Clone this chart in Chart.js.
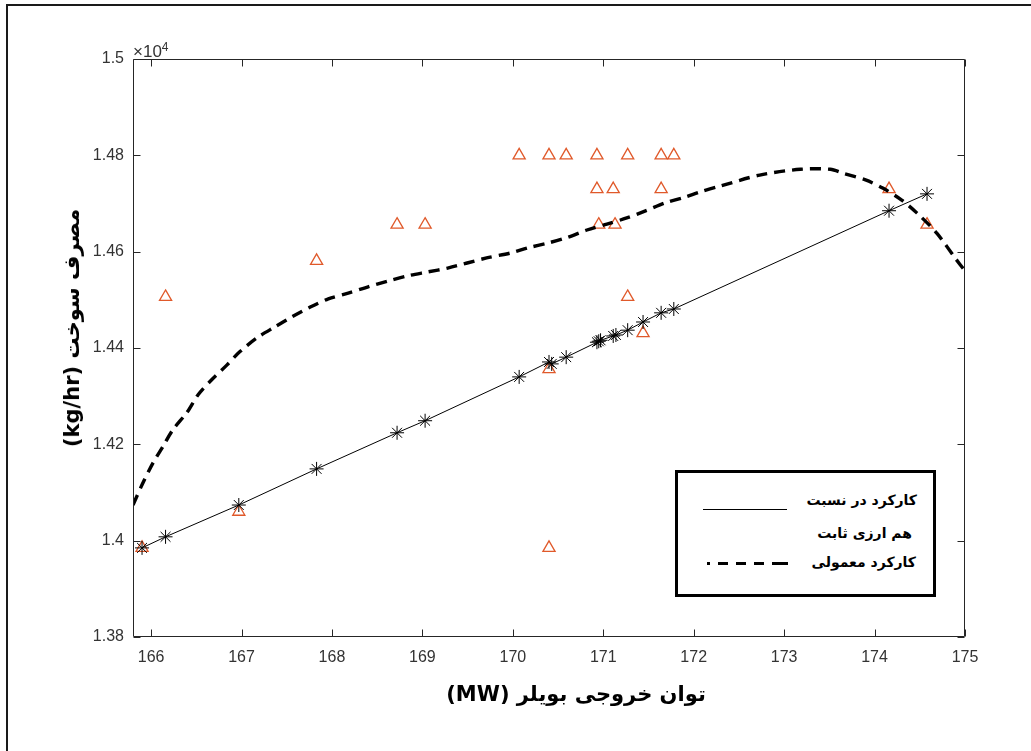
<!DOCTYPE html>
<html>
<head>
<meta charset="utf-8">
<script src="https://cdn.jsdelivr.net/npm/chart.js@4.4.1/dist/chart.umd.min.js"></script>
<style>
  html, body { margin: 0; padding: 0; background: #fff; overflow: hidden; }
  #wrap { position: relative; width: 1031px; height: 751px; }
  #frame { position: absolute; left: 6px; top: 4px; width: 1100px; height: 800px; border: 2px solid #1a1a1a; }
  #chart { position: absolute; left: 0; top: 0; }
  .fa { position: absolute; font-family: "DejaVu Sans", sans-serif; font-weight: bold; direction: rtl; white-space: nowrap; color: #000; }
  #xTitle { font-size: 21px; left: 576px; top: 682px; transform: translateX(-50%); }
  #yTitle { font-size: 21px; left: 72px; top: 328px; transform: translate(-50%, -50%) rotate(-90deg); }
  #expo { position: absolute; left: 133px; top: 37px; font: 17px "Liberation Sans", Arial, sans-serif; line-height: 20px; color: #333; }
  #expo sup { font-size: 12px; vertical-align: 6px; }
  #legend { position: absolute; left: 675px; top: 470px; width: 261px; height: 127px; box-sizing: border-box; border: 3px solid #000; background: #fff; }
  #legend .fa { font-size: 14px; line-height: 20px; }
  .lg-solid { position: absolute; left: 25px; top: 36px; width: 84px; border-top: 1.5px solid #000; }
  .lg-dash { position: absolute; left: 29px; top: 89px; width: 81px; height: 3px;
    background: repeating-linear-gradient(to right, #000 0 10px, transparent 10px 18px); background-position: -7px 0; }
</style>
</head>
<body>
<div id="wrap">
  <div id="frame"></div>
  <canvas id="chart" width="1031" height="751"></canvas>
  <div id="expo">&times;10<sup>4</sup></div>
  <div class="fa" id="yTitle">مصرف سوخت (kg/hr)</div>
  <div class="fa" id="xTitle">توان خروجی بویلر (MW)</div>
  <div id="legend">
    <div class="lg-solid"></div>
    <div class="fa" style="right:16px; top:17px;">کارکرد در نسبت</div>
    <div class="fa" style="right:21px; top:50px;">هم ارزی ثابت</div>
    <div class="lg-dash"></div>
    <div class="fa" style="right:17px; top:79px;">کارکرد معمولی</div>
  </div>
</div>
<script>
// axis ticks
const xTicks = [166, 167, 168, 169, 170, 171, 172, 173, 174, 175];
const yTicks = [13800, 14000, 14200, 14400, 14600, 14800, 15000];

// constant heat-rate operation (solid line with * markers)
const starX = [165.90, 166.16, 166.97, 167.83, 168.72, 169.03, 170.07, 170.40, 170.43, 170.59,
  170.93, 170.95, 170.97, 171.11, 171.14, 171.27, 171.44, 171.64, 171.78, 174.16, 174.58];
const starY = [13985, 14008, 14074, 14149, 14224, 14249, 14340, 14371, 14367, 14381,
  14412, 14414, 14416, 14425, 14427, 14437, 14454, 14473, 14481, 14685, 14720];

// measured operation (open triangles)
const triX = [165.90, 166.16, 166.97, 167.83, 168.72, 169.03, 170.07, 170.40, 170.59, 170.93,
  171.27, 171.64, 171.78, 170.93, 171.11, 171.64, 170.95, 171.13, 171.27, 171.44,
  170.40, 170.40, 174.16, 174.58];
const triY = [13985, 14506, 14060, 14581, 14656, 14656, 14800, 14800, 14800, 14800,
  14800, 14800, 14800, 14730, 14730, 14730, 14656, 14656, 14506, 14431,
  14356, 13985, 14730, 14656];

// normal operation curve (dashed)
const fitX = [165.80, 165.90, 166.02, 166.13, 166.24, 166.40, 166.52, 166.67, 166.84, 166.98,
  167.17, 167.37, 167.56, 167.76, 167.96, 168.18, 168.40, 168.62, 168.84, 169.06,
  169.28, 169.71, 169.97, 170.17, 170.39, 170.61, 170.82, 171.04, 171.26, 171.46,
  171.68, 171.90, 172.07, 172.29, 172.73, 173.18, 173.51, 173.65, 173.90, 174.09,
  174.30, 174.47, 174.69, 174.89, 175.00];
const fitY = [14074, 14116, 14161, 14195, 14230, 14267, 14303, 14334, 14365, 14392,
  14421, 14444, 14465, 14485, 14502, 14514, 14527, 14539, 14550, 14558,
  14566, 14587, 14597, 14608, 14618, 14630, 14645, 14657, 14670, 14684,
  14701, 14713, 14724, 14736, 14759, 14771, 14771, 14763, 14749, 14732,
  14707, 14680, 14638, 14587, 14560];

const pairs = (xs, ys) => xs.map((x, i) => ({ x, y: ys[i] }));

const axisColor = '#262626';

// box around the plot with inward tick marks on all four sides
const axisBox = {
  id: 'axisBox',
  afterDatasetsDraw(chart) {
    const { ctx, chartArea: a, scales } = chart;
    const len = 7;
    const L = Math.round(a.left) + 0.5, R = Math.round(a.right) - 0.5;
    const T = Math.round(a.top) + 0.5, B = Math.round(a.bottom) - 0.5;
    ctx.save();
    ctx.strokeStyle = axisColor;
    ctx.lineWidth = 1;
    ctx.beginPath();
    ctx.rect(L, T, R - L, B - T);
    scales.x.ticks.forEach(t => {
      const px = Math.round(scales.x.getPixelForValue(t.value)) + 0.5;
      ctx.moveTo(px, B); ctx.lineTo(px, B - len);
      ctx.moveTo(px, T); ctx.lineTo(px, T + len);
    });
    scales.y.ticks.forEach(t => {
      const py = Math.round(scales.y.getPixelForValue(t.value)) + 0.5;
      ctx.moveTo(L, py); ctx.lineTo(L + len, py);
      ctx.moveTo(R, py); ctx.lineTo(R - len, py);
    });
    ctx.stroke();
    ctx.restore();
  },
};

new Chart(document.getElementById('chart'), {
  type: 'scatter',
  data: {
    datasets: [
      {
        label: 'constant',
        data: pairs(starX, starY),
        showLine: true,
        borderColor: '#000',
        borderWidth: 1,
        pointStyle: 'star',
        pointRadius: 7,
        pointBorderColor: '#000',
        pointBorderWidth: 1,
        order: 0,
      },
      {
        label: 'normal',
        data: pairs(fitX, fitY),
        showLine: true,
        borderColor: '#000',
        borderWidth: 3.4,
        borderDash: [11, 7],
        tension: 0.3,
        pointRadius: 0,
        order: 1,
      },
      {
        label: 'measured',
        data: pairs(triX, triY),
        showLine: false,
        pointStyle: 'triangle',
        pointRadius: 7,
        pointBorderColor: '#E0592A',
        pointBackgroundColor: 'rgba(0,0,0,0)',
        pointBorderWidth: 1.3,
        order: 2,
      },
    ],
  },
  options: {
    responsive: false,
    animation: false,
    events: [],
    layout: { padding: { left: 0, top: 59, right: 66, bottom: 0 } },
    plugins: { legend: { display: false }, tooltip: { enabled: false } },
    scales: {
      x: {
        type: 'linear',
        min: 165.8, max: 175,
        afterBuildTicks: s => { s.ticks = xTicks.map(v => ({ value: v })); },
        afterFit: s => { s.height = 114; },
        grid: { display: false, drawTicks: false },
        border: { display: false },
        ticks: {
          padding: 11,
          color: '#333',
          font: { family: '"Liberation Sans Narrow", "Liberation Sans", Arial, sans-serif', size: 16 },
          callback: v => String(v),
        },
      },
      y: {
        type: 'linear',
        min: 13800, max: 15000,
        afterBuildTicks: s => { s.ticks = yTicks.map(v => ({ value: v })); },
        afterFit: s => { s.width = 133; },
        grid: { display: false, drawTicks: false },
        border: { display: false },
        ticks: {
          padding: 9,
          color: '#333',
          font: { family: '"Liberation Sans", Arial, sans-serif', size: 16 },
          callback: v => String(parseFloat((v / 10000).toFixed(2))),
        },
      },
    },
  },
  plugins: [axisBox],
});
</script>
</body>
</html>
